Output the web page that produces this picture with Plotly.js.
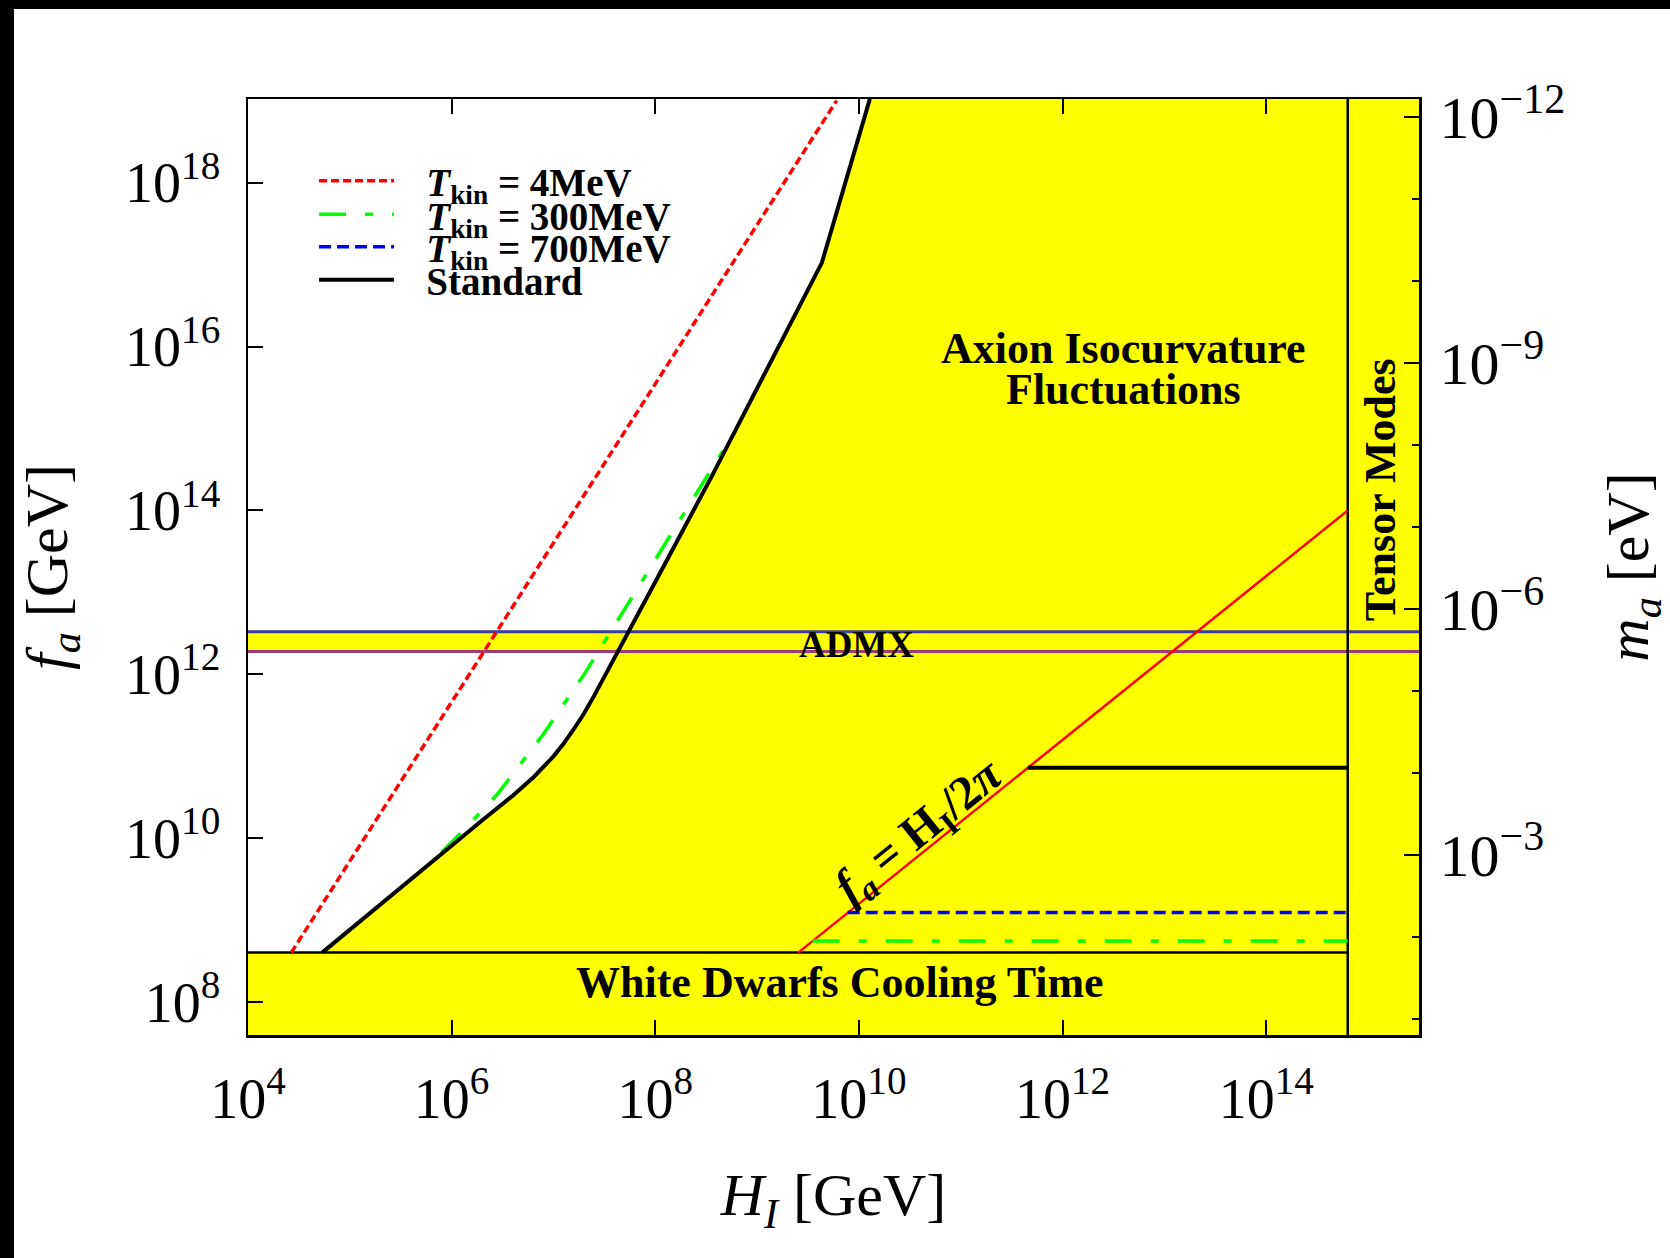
<!DOCTYPE html>
<html><head><meta charset="utf-8">
<script src="https://cdn.plot.ly/plotly-3.0.1.min.js"></script>
<style>
html,body{margin:0;padding:0;background:#000;width:1670px;height:1258px;overflow:hidden;}
#chart{position:absolute;left:14px;top:9px;width:1656px;height:1249px;background:#fff;}
</style></head><body><div id="chart"></div>
<script>
// ---- axis ranges (log10) ----
const H_RANGE_LOG = [4, 15.5];
const FA_RANGE_LOG = [7.6, 19.02];
const MA_FA_PRODUCT_LOG = 6.8;   // log10(m_a[eV] * f_a[GeV])

// ---- tick labels ----
const H_TICKS = [1e4, 1e6, 1e8, 1e10, 1e12, 1e14];
const H_TICKTEXT = ['10<sup>4</sup>','10<sup>6</sup>','10<sup>8</sup>','10<sup>10</sup>','10<sup>12</sup>','10<sup>14</sup>'];
const FA_TICKS = [1e8, 1e10, 1e12, 1e14, 1e16, 1e18];
const FA_TICKTEXT = ['10<sup>8</sup>','10<sup>10</sup>','10<sup>12</sup>','10<sup>14</sup>','10<sup>16</sup>','10<sup>18</sup>'];
const MA_TICKS = [1e-12, 1e-9, 1e-6, 1e-3];
const MA_TICKTEXT = ['10<sup>\u221212</sup>','10<sup>\u22129</sup>','10<sup>\u22126</sup>','10<sup>\u22123</sup>'];
const MA_MINOR = [1e-12,1e-11,1e-10,1e-9,1e-8,1e-7,1e-6,1e-5,1e-4,1e-3,1e-2,1e-1];

// ---- bounds ----
const WD_FA = 4.03e8;          // white dwarf cooling bound
const ADMX_LOW = 1.9e12;
const ADMX_HIGH = 3.3e12;
const TENSOR_H = 6.31e14;      // tensor modes bound on H_I

// ---- Standard curve ----
const standardH  = [5.35e4, 3.16e5, 1.14e6, 2.0e6, 3.98e6, 6.31e6, 1.0e7, 1.26e7, 1.58e7, 2.0e7, 2.51e7, 3.16e7, 4.32e7, 5.66e7, 1.02e8, 3.56e8, 4.32e9, 1.28e10];
const standardFa = [4.03e8, 2.51e9, 9.55e9, 1.66e10, 3.31e10, 5.50e10, 1.0e11, 1.43e11, 2.14e11, 3.35e11, 5.50e11, 9.33e11, 1.95e12, 3.55e12, 1.41e13, 2.57e14, 1.05e17, 1.05e19];
const standardFlatH = [4.55e11, 6.31e14];
const standardFlatFa = [7.24e10, 7.24e10];

// ---- T_kin = 4 MeV ----
const t4H  = [2.66e4, 6.03e9];
const t4Fa = [4.03e8, 1.0e19];

// ---- T_kin = 300 MeV ----
const t300H  = [7.94e5, 1.41e6, 2.82e6, 7.94e6, 2.0e7, 3.98e7, 7.94e7, 5.25e8];
const t300Fa = [6.76e9, 1.38e10, 3.47e10, 1.86e11, 1.0e12, 3.98e12, 1.58e13, 6.92e14];
const t300FlatH = [3.51e9, 6.31e14];
const t300FlatFa = [5.58e8, 5.58e8];

// ---- T_kin = 700 MeV ----
const t700FlatH = [7.76e9, 6.31e14];
const t700FlatFa = [1.24e9, 1.24e9];

// ---- f_a = H_I / 2pi ----
const equalH = [2.53e9, 6.31e14];
const equalFa = [4.03e8, 1.0e14];

const YELLOW = '#ffff00';
const hMin = Math.pow(10, H_RANGE_LOG[0]), hMax = Math.pow(10, H_RANGE_LOG[1]);
const faMin = Math.pow(10, FA_RANGE_LOG[0]), faMax = Math.pow(10, FA_RANGE_LOG[1] + 0.1);
const maRange = [MA_FA_PRODUCT_LOG - FA_RANGE_LOG[0], MA_FA_PRODUCT_LOG - FA_RANGE_LOG[1]];

function fillTrace(x, y) {
  return {x, y, type:'scatter', mode:'lines', fill:'toself', fillcolor:YELLOW,
          line:{width:0, color:YELLOW}, hoverinfo:'skip', showlegend:false};
}
function lineTrace(x, y, color, width, dash, extra) {
  return Object.assign({x, y, type:'scatter', mode:'lines',
          line:{color, width, dash:dash||'solid'}, hoverinfo:'skip', showlegend:false, connectgaps:false}, extra||{});
}

const NB = '\u00a0\u00a0\u2009';
const lastFa = standardFa[standardFa.length - 1];
const traces = [
  // isocurvature region (right of standard curve)
  fillTrace(standardH.concat([hMax, hMax]), standardFa.concat([lastFa, WD_FA])),
  // white dwarfs
  fillTrace([hMin, hMax, hMax, hMin], [faMin, faMin, WD_FA, WD_FA]),
  // ADMX band
  fillTrace([hMin, hMax, hMax, hMin], [ADMX_LOW, ADMX_LOW, ADMX_HIGH, ADMX_HIGH]),
  // tensor modes
  fillTrace([TENSOR_H, hMax, hMax, TENSOR_H], [faMin, faMin, faMax, faMax]),
  // ADMX edges
  lineTrace([hMin, hMax], [ADMX_HIGH, ADMX_HIGH], '#3c3c9e', 3),
  lineTrace([hMin, hMax], [ADMX_LOW, ADMX_LOW], '#9e3c76', 3),
  // WD edge and tensor edge
  lineTrace([hMin, TENSOR_H], [WD_FA, WD_FA], '#000', 2.5),
  lineTrace([TENSOR_H, TENSOR_H], [faMin, faMax], '#000', 2.5),
  // f_a = H_I/2pi
  lineTrace(equalH, equalFa, '#ff0000', 2.5),
  // T_kin curves
  lineTrace(t4H, t4Fa, '#ff0000', 3.5, '8px,4px',
    {name:NB + '<b><i>T</i><sub>kin</sub> = 4MeV</b>', showlegend:true, legend:'legend'}),
  lineTrace(t300H.concat([null], t300FlatH), t300Fa.concat([null], t300FlatFa), '#00ff00', 3.5, '27px,19px,8px,19px',
    {name:NB + '<b><i>T</i><sub>kin</sub> = 300MeV</b>', showlegend:true, legend:'legend2'}),
  lineTrace(t700FlatH, t700FlatFa, '#0000ff', 3.5, '12px,6px',
    {name:NB + '<b><i>T</i><sub>kin</sub> = 700MeV</b>', showlegend:true, legend:'legend3'}),
  lineTrace(standardH.concat([null], standardFlatH), standardFa.concat([null], standardFlatFa), '#000000', 4, 'solid',
    {name:NB + '<b>Standard</b>', showlegend:true, legend:'legend4'}),
  // invisible carrier for the m_a axis (m_a = const / f_a)
  {x:[hMin, hMax], y:[Math.pow(10, maRange[0]), Math.pow(10, maRange[1])], yaxis:'y2', type:'scatter', mode:'lines',
   line:{width:0, color:'rgba(0,0,0,0)'}, hoverinfo:'skip', showlegend:false}
];

const FONT = 'Liberation Serif, Times New Roman, serif';
function legendAt(y) {
  return {x:0.0564, y:y, xanchor:'left', yanchor:'middle', bgcolor:'rgba(0,0,0,0)',
          borderwidth:0, itemwidth:75, font:{family:FONT, size:39, color:'#000'}};
}
const axisCommon = {type:'log', ticks:'inside', ticklen:15, tickwidth:2, tickcolor:'#000',
  showline:true, linewidth:2.5, linecolor:'#000', showgrid:false, zeroline:false,
  tickfont:{family:FONT, size:56, color:'#000'}};

const annFont = (s) => ({family:FONT, size:s, color:'#000'});
const layout = {
  width:1656, height:1249,
  paper_bgcolor:'#ffffff', plot_bgcolor:'#ffffff',
  margin:{l:234, r:251, t:90, b:223},
  font:{family:FONT, color:'#000'},
  xaxis: Object.assign({}, axisCommon, {range:H_RANGE_LOG, tickmode:'array', tickvals:H_TICKS, ticktext:H_TICKTEXT,
    mirror:'ticks', ticklabelstandoff:13,
    title:{text:'<i>H</i><sub><i>I</i></sub> [GeV]', font:{family:FONT, size:60, color:'#000'}, standoff:45}}),
  yaxis: Object.assign({}, axisCommon, {range:FA_RANGE_LOG, tickmode:'array', tickvals:FA_TICKS, ticktext:FA_TICKTEXT,
    mirror:true, ticklabelstandoff:14,
    title:{text:'<i>f</i><sub><i>a</i></sub> [GeV]', font:{family:FONT, size:60, color:'#000'}, standoff:38}}),
  yaxis2: Object.assign({}, axisCommon, {overlaying:'y', side:'right', anchor:'x',
    range:maRange, tickfont:{family:FONT, size:60, color:'#000'},
    tickmode:'array', tickvals:MA_TICKS, ticktext:MA_TICKTEXT, ticklabelstandoff:6,
    minor:{tickmode:'array', tickvals:MA_MINOR, ticks:'inside', ticklen:7, tickwidth:2, tickcolor:'#000'},
    title:{text:'<i>m</i><sub><i>a</i></sub> [eV]', font:{family:FONT, size:60, color:'#000'}, standoff:72}}),
  legend: legendAt(0.9124),
  legend2: legendAt(0.8766),
  legend3: legendAt(0.8419),
  legend4: legendAt(0.8066),
  annotations:[
    {x:12.6, y:15.98, xref:'x', yref:'y', text:'<b>Axion Isocurvature</b>', showarrow:false, font:annFont(44)},
    {x:12.6, y:15.48, xref:'x', yref:'y', text:'<b>Fluctuations</b>', showarrow:false, font:annFont(44)},
    {x:9.98, y:12.37, xref:'x', yref:'y', text:'<b>ADMX</b>', showarrow:false, font:annFont(37)},
    {x:9.81, y:8.24, xref:'x', yref:'y', text:'<b>White Dwarfs Cooling Time</b>', showarrow:false, font:annFont(44)},
    {x:15.13, y:14.25, xref:'x', yref:'y', text:'<b>Tensor Modes</b>', showarrow:false, textangle:-90, font:annFont(44)},
    {x:10.6, y:10.08, xref:'x', yref:'y', text:'<b><i>f</i><sub><i>a</i></sub> = H<sub>I</sub>/2<i>\u03c0</i></b>', showarrow:false, textangle:-38.8, font:annFont(48)}
  ],
  showlegend:true
};

Plotly.newPlot('chart', traces, layout, {staticPlot:true, displayModeBar:false});
</script></body></html>
